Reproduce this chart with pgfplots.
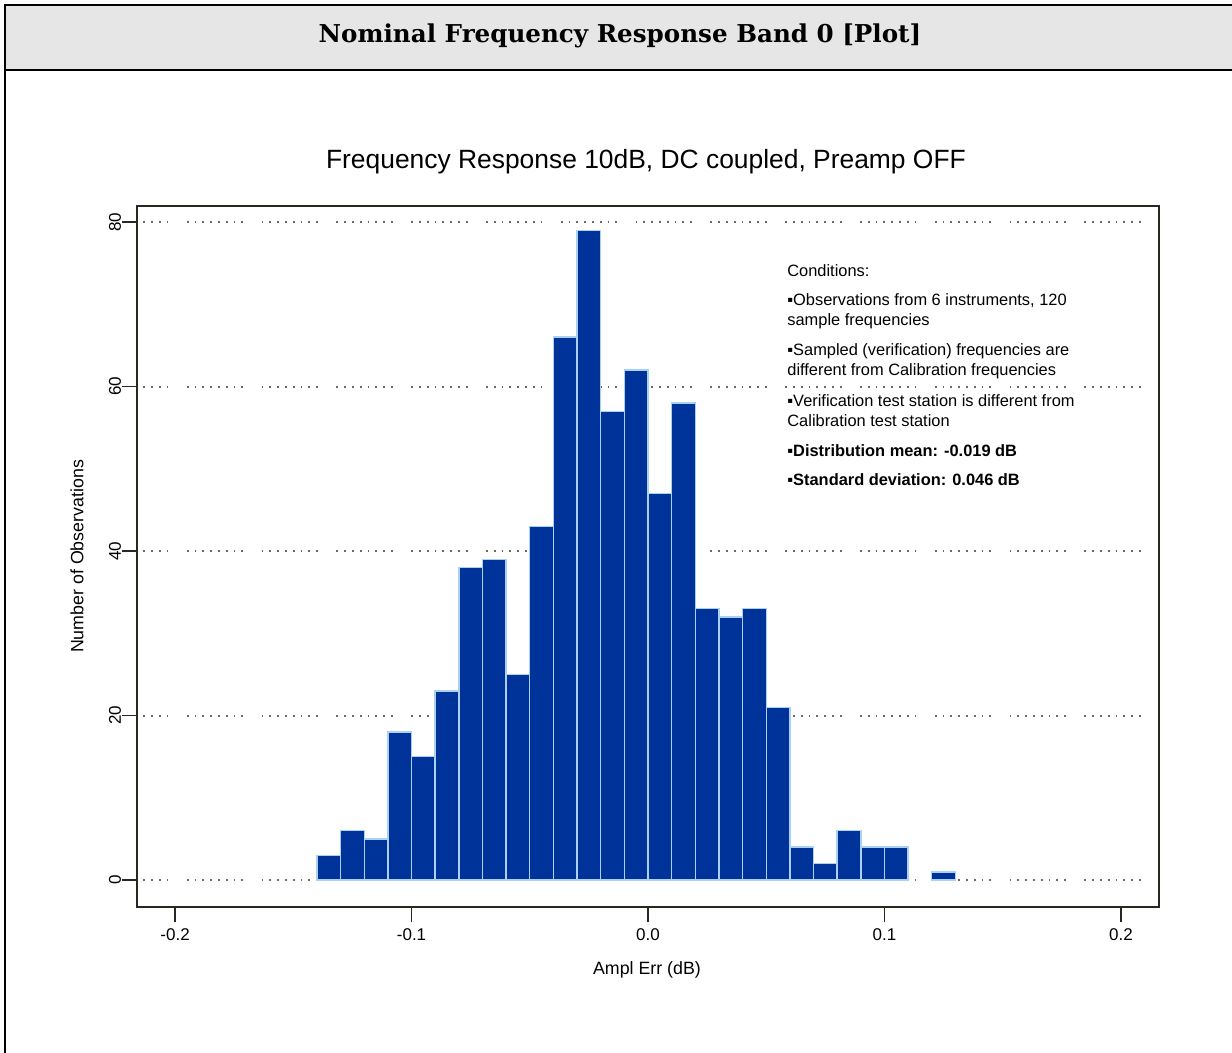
\documentclass[border=0pt]{standalone}
\usepackage{pgfplots}
\pgfplotsset{compat=1.18}
\usepackage{fontspec}
\setmainfont{Liberation Sans}
\newfontfamily\hdrfont{DejaVu Serif}

\definecolor{barblue}{RGB}{0,51,153}
\definecolor{baredge}{RGB}{170,210,240}
\definecolor{gridcol}{RGB}{100,110,90}
\definecolor{hdrgray}{RGB}{230,230,230}
\definecolor{boxcol}{RGB}{40,40,30}

% histogram counts, left bin edges, bin width 0.01
\pgfplotstableread{
x y
-0.14 3
-0.13 6
-0.12 5
-0.11 18
-0.10 15
-0.09 23
-0.08 38
-0.07 39
-0.06 25
-0.05 43
-0.04 66
-0.03 79
-0.02 57
-0.01 62
0.00 47
0.01 58
0.02 33
0.03 32
0.04 33
0.05 21
0.06 4
0.07 2
0.08 6
0.09 4
0.10 4
0.11 0
}\histmain
\pgfplotstableread{
x y
0.12 1
0.13 1
}\histtail

\begin{document}
\begin{tikzpicture}
  \useasboundingbox (0,0) rectangle (616pt,-526.5pt);
  % page frame
  \draw[line width=1pt, fill=hdrgray] (2.5pt,-2.5pt) rectangle (620pt,-35pt);
  \draw[line width=1pt] (2.5pt,-35pt) -- (2.5pt,-530pt);
  \node at (310pt,-18pt) {\hdrfont\bfseries\fontsize{12.3}{14}\selectfont Nominal Frequency Response Band 0 [Plot]};

  \begin{axis}[
    at={(68.5pt,-453.5pt)}, anchor=south west,
    scale only axis, width=511pt, height=350.5pt,
    xmin=-0.2161, xmax=0.2161,
    ymin=-3.28, ymax=81.95,
    xtick={-0.2,-0.1,0,0.1,0.2},
    xticklabels={-0.2,-0.1,0.0,0.1,0.2},
    ytick={0,20,40,60,80},
    yticklabels={0,20,40,60,80},
    tick pos=left, tick align=outside,
    major tick length=7.5pt,
    axis line style={boxcol, line width=0.7pt},
    tick style={boxcol, line width=0.7pt},
    ticklabel style={font=\fontsize{8.5}{10}\selectfont},
    yticklabel style={rotate=90, anchor=south},
    yticklabel shift=-3pt,
    ymajorgrids,
    major grid style={gridcol, line width=1pt,
      dash pattern=on 0.9pt off 3pt on 0.9pt off 3pt on 0.9pt off 3pt on 0.9pt off 3pt on 0.9pt off 3pt on 0.9pt off 3pt on 0.9pt off 3pt on 0.9pt off 9.2pt,
      dash phase=12.5pt},
    title={Frequency Response 10dB, DC coupled, Preamp OFF},
    title style={font=\fontsize{13.2}{15}\selectfont, at={(axis description cs:0.498,1.0456)}, anchor=center},
    xlabel={Ampl Err (dB)},
    xlabel style={font=\fontsize{8.9}{10}\selectfont, at={(axis description cs:0.499,-0.0899)}, anchor=center},
    ylabel={Number of Observations},
    ylabel style={font=\fontsize{8.9}{10}\selectfont, at={(axis description cs:-0.0587,0.5)}, anchor=center},
  ]
    \addplot[ybar interval, fill=barblue, draw=baredge, line width=0.7pt] table[x=x, y=y] {\histmain};
    \addplot[ybar interval, fill=barblue, draw=baredge, line width=0.7pt] table[x=x, y=y] {\histtail};
  \end{axis}

  \begin{scope}[every node/.style={anchor=west, inner sep=0pt, font=\fontsize{8.2}{9}\selectfont}]
    \node at (393.5pt,-135.5pt) {Conditions:};
    \node at (393.5pt,-150.5pt) {▪Observations from 6 instruments, 120};
    \node at (393.5pt,-160.5pt) {sample frequencies};
    \node at (393.5pt,-175.5pt) {▪Sampled (verification) frequencies are};
    \node at (393.5pt,-185.5pt) {different from Calibration frequencies};
    \node at (393.5pt,-200.5pt) {▪Verification test station is different from};
    \node at (393.5pt,-210.5pt) {Calibration test station};
    \node at (393.5pt,-225.5pt) {\bfseries ▪Distribution mean: -0.019 dB};
    \node at (393.5pt,-240pt) {\bfseries ▪Standard deviation: 0.046 dB};
  \end{scope}
\end{tikzpicture}
\end{document}
